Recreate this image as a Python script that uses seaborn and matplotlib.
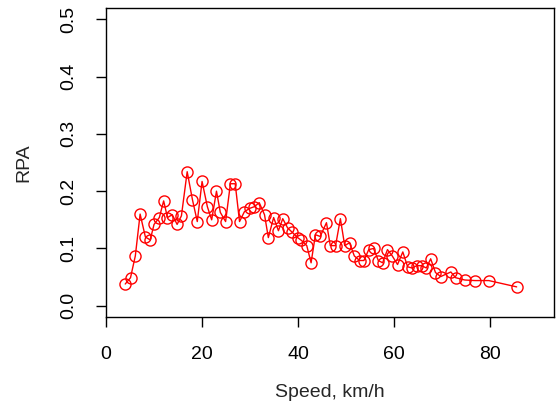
import matplotlib
matplotlib.use('Agg')
import matplotlib.pyplot as plt
import seaborn as sns
import pandas as pd

# 数据
speed = [4.0, 5.1, 6.1, 7.1, 8.2, 9.2, 10.0, 11.1, 12.0, 12.8,
         13.8, 14.8, 15.7, 16.9, 18.0, 19.0, 20.0, 21.1, 22.0, 23.0,
         23.8, 24.9, 25.9, 26.9, 27.8, 28.8, 29.9, 30.9, 31.9, 33.0,
         33.8, 34.9, 35.9, 36.8, 37.8, 38.8, 39.9, 40.7, 41.8, 42.7,
         43.6, 44.6, 45.9, 46.7, 47.8, 48.8, 49.7, 50.7, 51.7, 52.8,
         53.7, 54.7, 55.7, 56.7, 57.6, 58.6, 59.6, 60.7, 61.8, 62.8,
         63.7, 64.7, 65.7, 66.7, 67.6, 68.6, 69.7, 71.8, 72.8, 74.7,
         76.8, 79.7, 85.5]
rpa = [0.038, 0.049, 0.087, 0.160, 0.120, 0.115, 0.142, 0.154, 0.183, 0.154,
       0.159, 0.142, 0.157, 0.234, 0.185, 0.147, 0.217, 0.173, 0.150, 0.200,
       0.163, 0.147, 0.213, 0.213, 0.147, 0.164, 0.170, 0.173, 0.180, 0.159,
       0.119, 0.154, 0.131, 0.152, 0.136, 0.128, 0.119, 0.114, 0.105, 0.075,
       0.124, 0.121, 0.145, 0.105, 0.105, 0.152, 0.105, 0.110, 0.087, 0.079,
       0.079, 0.098, 0.100, 0.079, 0.075, 0.098, 0.087, 0.072, 0.094, 0.068,
       0.066, 0.070, 0.070, 0.066, 0.082, 0.058, 0.051, 0.059, 0.049, 0.045,
       0.044, 0.044, 0.033]
x_ticks = [0, 20, 40, 60, 80]
y_ticks = [0.0, 0.1, 0.2, 0.3, 0.4, 0.5]

df = pd.DataFrame({'Speed': speed, 'RPA': rpa})

sns.set_style('ticks')
plt.rcParams['font.family'] = ['Liberation Sans', 'DejaVu Sans']

fig = plt.figure(figsize=(5.58, 4.12), dpi=100)
ax = fig.add_axes([0.19, 0.23, 0.803, 0.751])

sns.lineplot(data=df, x='Speed', y='RPA', ax=ax, sort=False, color='red',
             linewidth=1, marker='o', markersize=8, markerfacecolor='none',
             markeredgecolor='red', markeredgewidth=1)

ax.set_xlim(0.5, 93.3)
ax.set_ylim(-0.02, 0.52)
ax.set_xticks(x_ticks)
ax.set_yticks(y_ticks)
ax.set_yticklabels([f'{v:.1f}' for v in y_ticks], rotation=90, va='center')
ax.tick_params(axis='both', direction='out', length=7, width=1,
               labelsize=14, colors='black', pad=14)
for s in ax.spines.values():
    s.set_visible(True)
    s.set_color('black')
    s.set_linewidth(1)

ax.set_xlabel('Speed, km/h', fontsize=14, labelpad=15)
ax.set_ylabel('RPA', fontsize=14, labelpad=20)

fig.savefig('out.png', dpi=100)
